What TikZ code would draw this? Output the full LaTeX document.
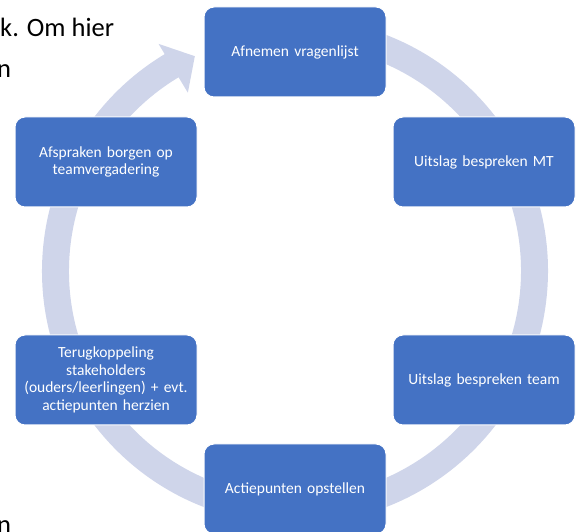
\documentclass[tikz,border=0pt]{standalone}
\usepackage{fontspec}
\setmainfont{Carlito}
\definecolor{boxblue}{RGB}{68,114,196}
\definecolor{ringcol}{RGB}{207,213,234}
\begin{document}
\begin{tikzpicture}[x=1pt,y=1pt,
  stepbox/.style={rectangle, rounded corners=10pt, fill=boxblue, draw=white, line width=1pt,
    minimum width=182pt, minimum height=90pt, inner xsep=1pt, text width=178pt, align=center, text=white,
    font=\fontsize{15.5}{17.6}\selectfont},
  doctext/.style={anchor=base west, inner sep=0pt, font=\fontsize{26.5}{30}\selectfont}]
\useasboundingbox (0,0) rectangle (582,532);
% background document text
\node[doctext] (t1) at (0,495) {k. Om hier};
\node[doctext] (t2) at (-3,454) {n};
\node[doctext] (t3) at (-3,-2) {n};
% circular arrow
\fill[ringcol]
  ([shift={(295,261)}]85:253) arc[start angle=85, end angle=-239, radius=253]
  -- ([shift={(295,261)}]-239:265)
  -- ([shift={(295,261)}]-245:237)
  -- ([shift={(295,261)}]-239:208)
  -- ([shift={(295,261)}]-239:226)
  arc[start angle=-239, end angle=85, radius=226] -- cycle;
% boxes
\node[stepbox] (b1) at (295,480) {Afnemen vragenlijst};
\node[stepbox] (b2) at (484,370) {Uitslag bespreken MT};
\node[stepbox] (b3) at (484,152) {Uitslag bespreken team};
\node[stepbox] (b4) at (295,43) {Actiepunten opstellen};
\node[stepbox] (b5) at (106,152) {Terugkoppeling\\stakeholders\\(ouders/leerlingen) + evt.\\actiepunten herzien};
\node[stepbox] (b6) at (106,370) {Afspraken borgen op\\teamvergadering};
\end{tikzpicture}
\end{document}
